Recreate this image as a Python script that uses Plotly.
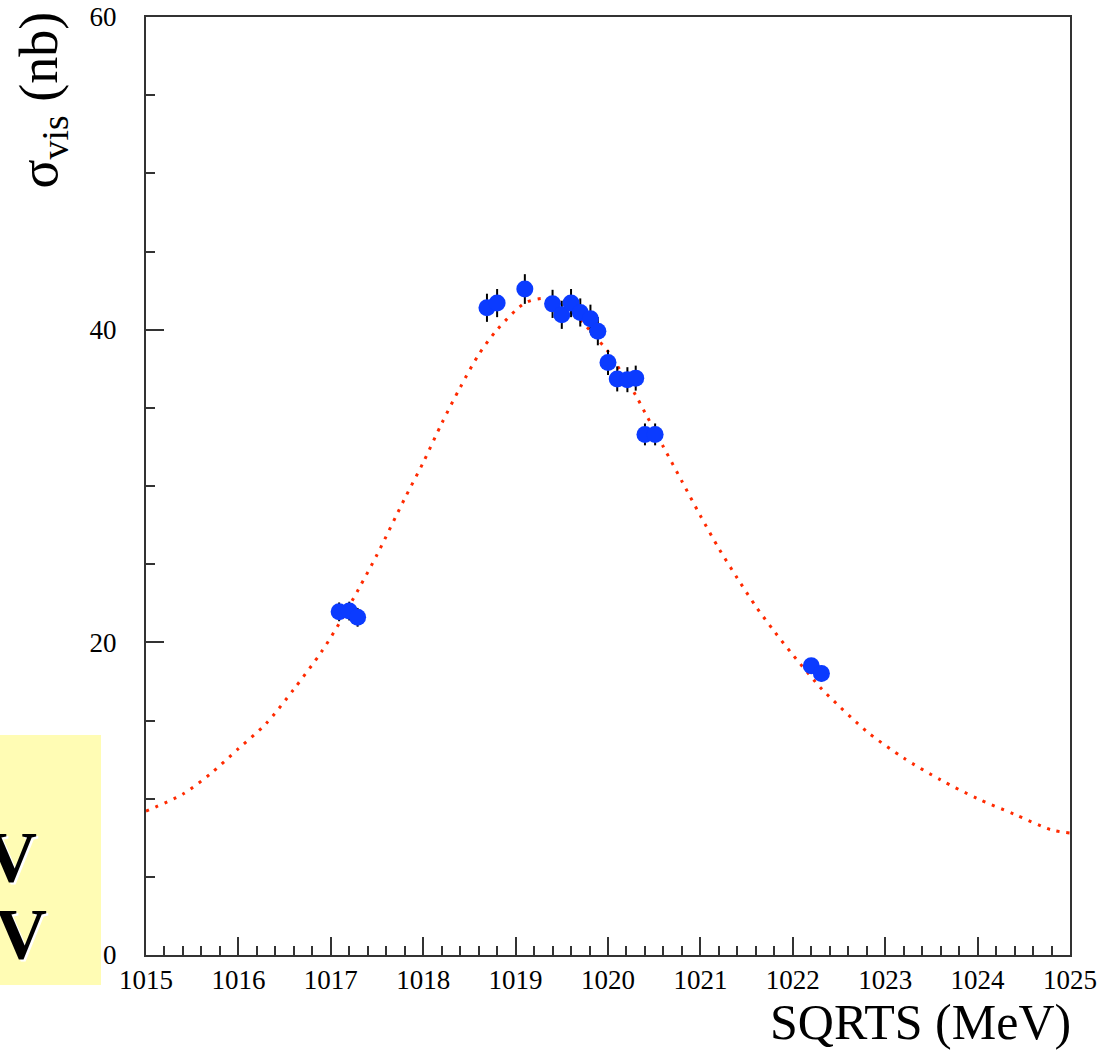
import plotly.graph_objects as go

# Measured visible cross section vs. centre-of-mass energy
sqrts = [1017.09, 1017.20, 1017.29, 1018.69, 1018.80, 1019.10, 1019.40, 1019.50,
         1019.60, 1019.70, 1019.81, 1019.89, 1020.00, 1020.10, 1020.21, 1020.30,
         1020.40, 1020.51, 1022.20, 1022.31]
sigma = [21.95, 22.0, 21.6, 41.4, 41.7, 42.6, 41.65, 40.95,
         41.7, 41.1, 40.7, 39.9, 37.9, 36.85, 36.8, 36.9,
         33.3, 33.3, 18.5, 18.0]
sigma_err = [0.6, 0.6, 0.6, 0.9, 0.9, 0.95, 0.9, 0.9,
             0.9, 0.9, 0.9, 0.9, 0.8, 0.8, 0.8, 0.8,
             0.7, 0.7, 0.5, 0.5]

# Fitted resonance curve
fit_e = [1015.0, 1015.4, 1015.7, 1016.0, 1016.3, 1016.6, 1016.9, 1017.1, 1017.3,
         1017.5, 1017.8, 1018.0, 1018.2, 1018.4, 1018.6, 1018.8, 1019.1, 1019.3,
         1019.5, 1020.0, 1020.1, 1020.3, 1020.4, 1020.6, 1020.8, 1021.0, 1021.2,
         1021.4, 1021.6, 1021.8, 1022.0, 1022.3, 1022.4, 1022.8, 1023.2, 1023.6,
         1024.0, 1024.4, 1024.8, 1025.0]
fit_sigma = [9.2, 10.3, 11.6, 13.2, 14.8, 17.0, 19.4, 21.3, 23.4,
             25.6, 29.2, 31.5, 34.0, 36.3, 38.4, 40.0, 41.7, 42.0,
             41.7, 38.6, 37.7, 35.8, 34.7, 32.5, 30.3, 28.1, 26.0,
             24.1, 22.3, 20.7, 19.2, 17.1, 16.5, 14.3, 12.6, 11.2,
             10.0, 9.0, 8.0, 7.8]

x_ticks = [1015, 1016, 1017, 1018, 1019, 1020, 1021, 1022, 1023, 1024, 1025]
y_ticks = [0, 20, 40, 60]

W, H = 1111, 1051
ML, MR, MT, MB = 146, 41, 17, 96
PW, PH = W - ML - MR, H - MT - MB


def px_x(px):
    return (px - ML) / PW


def px_y(py):
    return (H - MB - py) / PH


SERIF = "Liberation Serif"

fig = go.Figure()

fig.add_trace(go.Scatter(
    x=fit_e, y=fit_sigma, mode="lines",
    line=dict(color="#ff2a00", width=3, dash="3px,7px", shape="spline", smoothing=0.8),
    hoverinfo="skip", showlegend=False,
))

fig.add_trace(go.Scatter(
    x=sqrts, y=sigma, mode="markers",
    marker=dict(color="#0b3bff", size=17, line=dict(width=0)),
    error_y=dict(type="data", array=sigma_err, color="black", thickness=2, width=0),
    showlegend=False,
))

axis_common = dict(
    showgrid=False, zeroline=False, showline=True, linecolor="#333333", linewidth=2,
    mirror=True, ticks="inside", tickcolor="#333333", tickwidth=2, ticklen=18,
    tickfont=dict(family=SERIF, size=27, color="black"),
)

fig.update_xaxes(
    range=[1015, 1025], tickvals=x_ticks, ticktext=[str(v) for v in x_ticks],
    minor=dict(dtick=0.2, tick0=1015, ticks="inside", ticklen=9, tickwidth=2, tickcolor="#333333"),
    ticklabelstandoff=0,
    **axis_common,
)
fig.update_yaxes(
    range=[0, 60], tickvals=y_ticks, ticktext=[str(v) for v in y_ticks],
    minor=dict(dtick=5, tick0=0, ticks="inside", ticklen=9, tickwidth=2, tickcolor="#333333"),
    ticklabelstandoff=22,
    **axis_common,
)

# Yellow inset box at the lower left
fig.add_shape(type="rect", xref="paper", yref="paper",
              x0=px_x(-20), x1=px_x(101), y0=px_y(985), y1=px_y(735),
              fillcolor="#fffcb4", line=dict(width=0), layer="below")

box_lines = [("V", 39, 857), ("eV", 49, 934)]
for txt, right_px, cy in box_lines:
    for dx, dy, col in [(2, 2, "white"), (0, 0, "black")]:
        fig.add_annotation(
            text=f"<b>{txt}</b>", xref="paper", yref="paper",
            x=px_x(right_px + dx), y=px_y(cy + dy), xanchor="right", yanchor="middle",
            showarrow=False, font=dict(family=SERIF, size=72, color=col),
        )

# Axis titles
fig.add_annotation(
    text="σ<sub>vis</sub> (nb)", xref="paper", yref="paper",
    x=px_x(42), y=px_y(10), xanchor="center", yanchor="top", textangle=-90,
    showarrow=False, font=dict(family=SERIF, size=54, color="black"),
)
fig.add_annotation(
    text="SQRTS (MeV)", xref="paper", yref="paper",
    x=px_x(1073), y=px_y(1022), xanchor="right", yanchor="middle",
    showarrow=False, font=dict(family=SERIF, size=50, color="black"),
)

fig.update_layout(
    width=W, height=H, margin=dict(l=ML, r=MR, t=MT, b=MB, pad=0, autoexpand=False),
    plot_bgcolor="white", paper_bgcolor="white",
)

fig.write_html("out.html")
